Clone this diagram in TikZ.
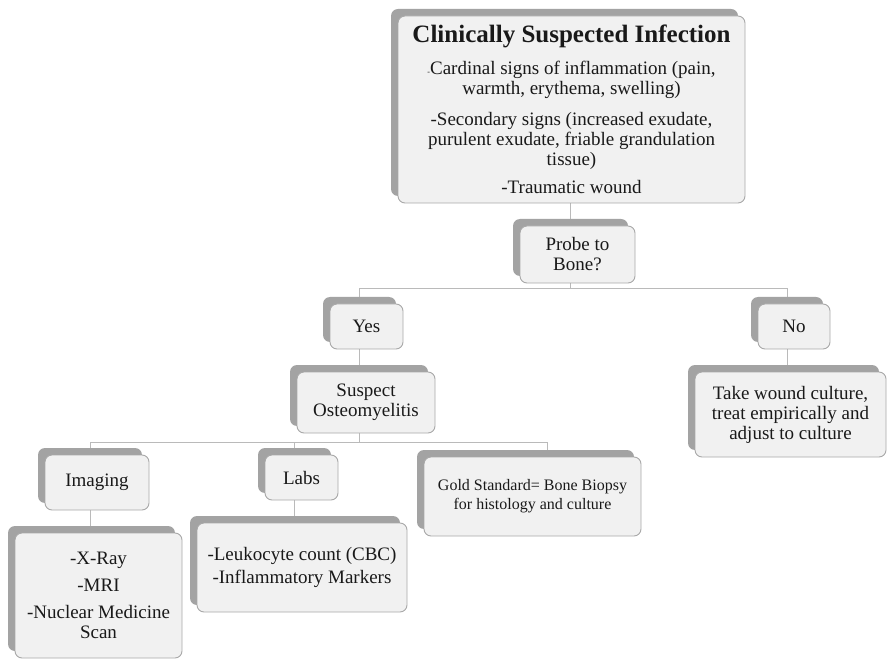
\documentclass[tikz,border=0pt]{standalone}
\usepackage{fontspec}
\setmainfont{Liberation Serif}
\usetikzlibrary{backgrounds}

\definecolor{tabgray}{HTML}{A3A3A3}
\definecolor{cardfill}{HTML}{F1F1F1}
\definecolor{cardline}{HTML}{A8A8A8}
\definecolor{linkgray}{HTML}{BABABA}

\newcommand\bodyfont{\fontsize{19}{20}\selectfont}
\newcommand\smallbodyfont{\fontsize{16}{19}\selectfont}

\tikzset{
  card/.style={draw=cardline, fill=cardfill, rounded corners=7pt, line width=0.9pt,
               align=center, inner sep=0pt, font=\bodyfont, text=black!90},
  tab/.style={fill=tabgray, rounded corners=7pt, inner sep=0pt},
  link/.style={draw=linkgray, line width=1pt},
}

% a card with a grey tab peeking out at its upper left:
% [extra card options] name, left, top, right, bottom, text
\newcommand\tabcard[7][]{%
  \node[tab, minimum width={#5-#3}, minimum height={#6-#4}]
    (#2-b) at ({(#3+#5)/2-7},{(#4+#6)/2-7}) {};
  \node[card, minimum width={#5-#3}, minimum height={#6-#4}, #1]
    (#2) at ({(#3+#5)/2},{(#4+#6)/2}) {#7};
}

\begin{document}
\begin{tikzpicture}[x=1pt, y=-1pt]
\useasboundingbox (0,0) rectangle (889,660);

\tabcard{top}{398}{16}{745}{203}{%
  {\fontsize{25}{28}\selectfont\bfseries Clinically Suspected Infection}\\[12pt]
  {\fontsize{8}{8}\selectfont -}Cardinal signs of inflammation (pain,\\
  warmth, erythema, swelling)\\[11pt]
  -Secondary signs (increased exudate,\\
  purulent exudate, friable grandulation\\
  tissue)\\[8pt]
  -Traumatic wound}

\tabcard{probe}{520}{226}{635}{283}{Probe to\\Bone?}
\tabcard{yes}{330}{304}{403}{349}{Yes}
\tabcard{no}{758}{304}{830}{349}{No}
\tabcard{susp}{297}{372}{435}{433}{Suspect\\Osteomyelitis}
\tabcard{take}{695}{372}{886}{457}{Take wound culture,\\treat empirically and\\adjust to culture}
\tabcard{img}{45}{455}{149}{510}{Imaging}
\tabcard{labs}{265}{455}{338}{500}{Labs}
\tabcard[font=\smallbodyfont]{gold}{424}{457}{641}{536}{Gold Standard= Bone Biopsy\\for histology and culture}
\tabcard{imgd}{15}{533}{182}{658}{-X-Ray\\[7pt]-MRI\\[7pt]-Nuclear Medicine\\Scan}
\tabcard{labd}{197}{523}{407}{612}{-Leukocyte count (CBC)\\[3pt]-Inflammatory Markers}

% bus lines of the tree
\coordinate (bus1) at (0,289);
\coordinate (bus2) at (0,442);
\coordinate (goldtap) at ([xshift=22pt]gold-b.north);

\begin{pgfonlayer}{background}
  \draw[link] (probe-b.north |- top.south) -- (probe-b.north);
  \draw[link] (probe-b.south) -- (probe-b.south |- bus1);
  \draw[link] (yes-b.north) -- (yes-b.north |- bus1) -- (no-b.north |- bus1) -- (no-b.north);
  \draw[link] (yes-b.south) -- (yes-b.south |- susp-b.north);
  \draw[link] (no-b.south) -- (no-b.south |- take-b.north);
  \draw[link] (susp-b.south) -- (susp-b.south |- bus2);
  \draw[link] (img-b.north) -- (img-b.north |- bus2) -- (goldtap |- bus2) -- (goldtap);
  \draw[link] (labs-b.north) -- (labs-b.north |- bus2);
  \draw[link] (img-b.south) -- (img-b.south |- imgd-b.north);
  \draw[link] (labs-b.south) -- (labs-b.south |- labd-b.north);
\end{pgfonlayer}
\end{tikzpicture}
\end{document}
